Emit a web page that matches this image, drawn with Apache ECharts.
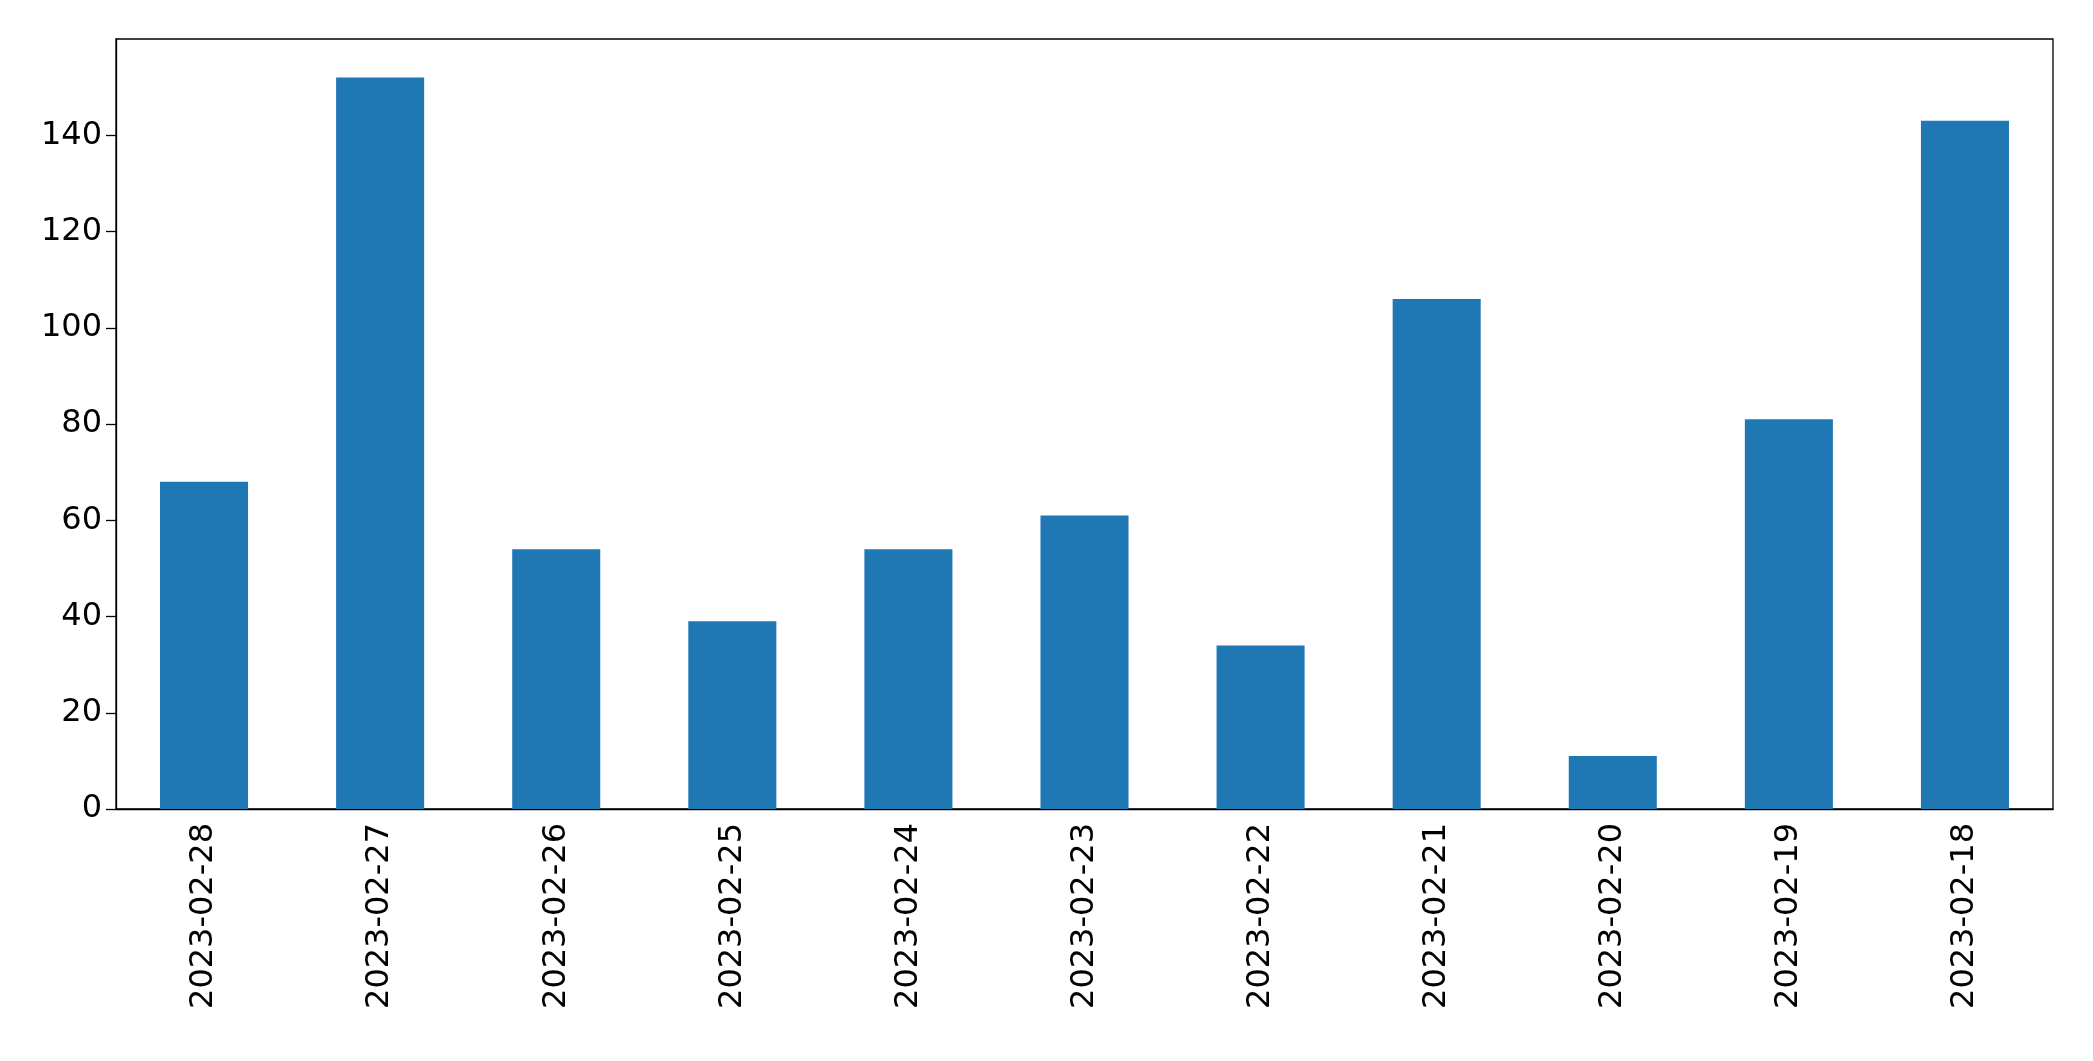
<!DOCTYPE html>
<html>
<head>
<meta charset="utf-8">
<script src="https://cdn.jsdelivr.net/npm/echarts@6/dist/echarts.min.js"></script>
<style>html,body{margin:0;padding:0;background:#fff}#container{width:2093px;height:1061px}</style>
</head>
<body>
<div id="container"></div>
<script>
var categories = ['2023-02-28', '2023-02-27', '2023-02-26', '2023-02-25', '2023-02-24', '2023-02-23',
                  '2023-02-22', '2023-02-21', '2023-02-20', '2023-02-19', '2023-02-18'];
var values = [68, 152, 54, 39, 54, 61, 34, 106, 11, 81, 143];

var myChart = echarts.init(document.getElementById('container'));
var option = {
    animation: false,
    grid: { left: 116, right: 40, top: 39, bottom: 252, show: true, borderColor: '#000', borderWidth: 1.3 },
    xAxis: {
        type: 'category',
        data: categories,
        axisLine: { lineStyle: { color: '#000', width: 1.3 } },
        axisTick: { alignWithLabel: true, length: 10, lineStyle: { color: '#000', width: 1.3 } },
        axisLabel: { rotate: 90, fontSize: 32, color: '#000', margin: 14, fontFamily: 'DejaVu Sans' }
    },
    yAxis: {
        type: 'value',
        min: 0, max: 160, interval: 20,
        splitLine: { show: false },
        axisLine: { show: true, lineStyle: { color: '#000', width: 1.3 } },
        axisTick: { show: true, length: 10, lineStyle: { color: '#000', width: 1.3 } },
        axisLabel: { fontSize: 32, color: '#000', margin: 14, fontFamily: 'DejaVu Sans', showMaxLabel: false }
    },
    series: [{
        type: 'bar',
        data: values,
        barCategoryGap: '50%',
        itemStyle: { color: '#1f77b4' }
    }]
};
myChart.setOption(option, true);
</script>
</body>
</html>
